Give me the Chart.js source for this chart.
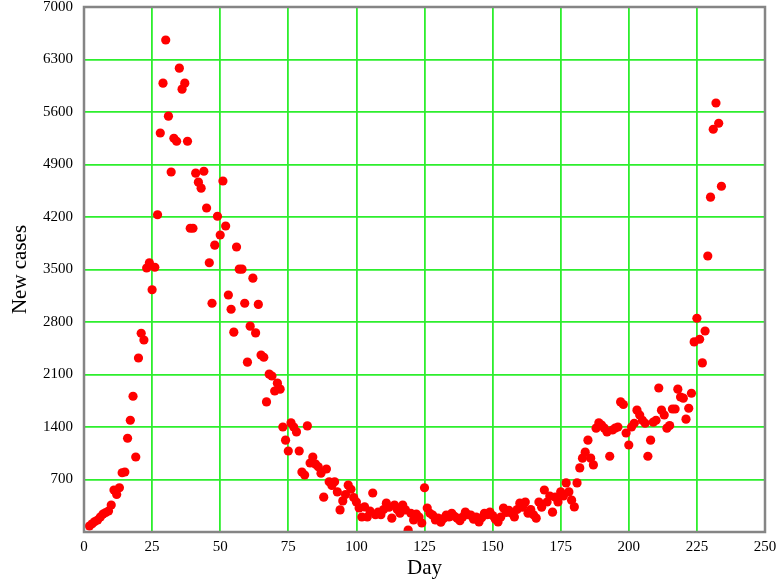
<!DOCTYPE html>
<html>
<head>
<meta charset="utf-8">
<script src="https://cdn.jsdelivr.net/npm/chart.js@4"></script>
<style>
  html, body { margin: 0; padding: 0; background: #fff; }
  #wrap { width: 776px; height: 583px; }
</style>
</head>
<body>
<div id="wrap"><canvas id="casesChart"></canvas></div>
<script>
// daily new cases
const days = [
  2, 3, 4, 5, 6, 7, 8, 9, 10, 11, 12, 13, 14, 15, 16, 17, 18, 19, 20, 21,
  22, 23, 24, 25, 26, 27, 28, 29, 30, 31, 32, 33, 34, 35, 36, 37, 38, 39, 40, 41,
  42, 43, 44, 45, 46, 47, 48, 49, 50, 51, 52, 53, 54, 55, 56, 57, 58, 59, 60, 61,
  62, 63, 64, 65, 66, 67, 68, 69, 70, 71, 72, 73, 74, 75, 76, 77, 78, 79, 80, 81,
  82, 83, 84, 85, 86, 87, 88, 89, 90, 91, 92, 93, 94, 95, 96, 97, 98, 99, 100, 101,
  102, 103, 104, 105, 106, 107, 108, 109, 110, 111, 112, 113, 114, 115, 116, 117, 118, 119, 120, 121,
  122, 123, 124, 125, 126, 127, 128, 129, 130, 131, 132, 133, 134, 135, 136, 137, 138, 139, 140, 141,
  142, 143, 144, 145, 146, 147, 148, 149, 150, 151, 152, 153, 154, 155, 156, 157, 158, 159, 160, 161,
  162, 163, 164, 165, 166, 167, 168, 169, 170, 171, 172, 173, 174, 175, 176, 177, 178, 179, 180, 181,
  182, 183, 184, 185, 186, 187, 188, 189, 190, 191, 192, 193, 194, 195, 196, 197, 198, 199, 200, 201,
  202, 203, 204, 205, 206, 207, 208, 209, 210, 211, 212, 213, 214, 215, 216, 217, 218, 219, 220, 221,
  222, 223, 224, 225, 226, 227, 228, 229, 230, 231, 232, 233, 234
];
const newCases = [
  80, 110, 140, 160, 200, 240, 260, 280, 360, 560, 500, 590, 790, 800, 1250, 1490, 1810, 1000, 2320, 2650,
  2560, 3520, 3590, 3230, 3530, 4230, 5320, 5985, 6560, 5545, 4800, 5250, 5210, 6185, 5905, 5985, 5210, 4050, 4050, 4785,
  4665, 4585, 4810, 4320, 3590, 3050, 3825, 4210, 3960, 4680, 4080, 3160, 2970, 2665, 3800, 3505, 3505, 3050, 2265, 2745,
  3385, 2655, 3035, 2360, 2330, 1735, 2105, 2080, 1880, 1985, 1905, 1400, 1225, 1080, 1455, 1400, 1335, 1080, 800, 760,
  1415, 920, 1000, 905, 870, 785, 465, 840, 670, 620, 670, 535, 295, 415, 500, 625, 570, 460, 400, 320,
  200, 335, 200, 280, 520, 230, 265, 230, 300, 385, 330, 185, 360, 300, 250, 360, 295, 25, 250, 160,
  240, 200, 120, 590, 320, 250, 225, 160, 185, 130, 180, 225, 200, 250, 210, 185, 150, 200, 265, 230,
  225, 170, 200, 135, 190, 250, 230, 265, 220, 170, 135, 200, 320, 260, 290, 250, 200, 300, 385, 330,
  400, 250, 300, 230, 185, 400, 330, 560, 400, 480, 265, 465, 400, 535, 480, 655, 535, 425, 335, 655,
  855, 985, 1065, 1225, 985, 895, 1385, 1455, 1425, 1385, 1335, 1010, 1360, 1385, 1400, 1735, 1700, 1320, 1160, 1400,
  1450, 1625, 1560, 1490, 1450, 1010, 1225, 1465, 1490, 1920, 1625, 1560, 1385, 1420, 1640, 1640, 1905, 1800, 1785, 1505,
  1650, 1850, 2535, 2850, 2570, 2255, 2680, 3680, 4465, 5370, 5720, 5450, 4610
];
const xTicks = [0, 25, 50, 75, 100, 125, 150, 175, 200, 225, 250];
const yTicks = [0, 700, 1400, 2100, 2800, 3500, 4200, 4900, 5600, 6300, 7000];

const points = days.map((d, i) => ({ x: d, y: newCases[i] }));

// grey frame round the plot area
const framePlugin = {
  id: 'frame',
  afterDraw(chart) {
    const a = chart.chartArea;
    const c = chart.ctx;
    c.save();
    c.strokeStyle = '#858585';
    c.lineWidth = 2.5;
    c.strokeRect(a.left, a.top, a.right - a.left, a.bottom - a.top);
    c.restore();
  }
};

const serif = "'Liberation Serif', 'Times New Roman', serif";
const gridGreen = 'rgb(45, 238, 45)';

new Chart(document.getElementById('casesChart'), {
  type: 'scatter',
  data: {
    datasets: [{
      label: 'New cases',
      data: points,
      backgroundColor: 'rgb(255, 0, 0)',
      borderColor: 'rgb(255, 0, 0)',
      borderWidth: 0,
      pointRadius: 4.6,
      pointHoverRadius: 4.6
    }]
  },
  options: {
    responsive: true,
    maintainAspectRatio: false,
    animation: false,
    layout: { padding: { top: 7, right: 11, left: 0, bottom: 0 } },
    plugins: {
      legend: { display: false },
      tooltip: { enabled: false }
    },
    scales: {
      x: {
        type: 'linear',
        min: 0,
        max: 250,
        afterBuildTicks: (s) => { s.ticks = xTicks.map(v => ({ value: v })); },
        afterFit: (s) => { s.height = 51; s.paddingLeft = 0; s.paddingRight = 0; },
        grid: { color: gridGreen, lineWidth: 1.8, drawTicks: false },
        border: { display: false },
        ticks: { color: '#000', padding: 6, maxRotation: 0, font: { family: serif, size: 15 } },
        title: { display: true, text: 'Day', color: '#000', padding: { top: 0, bottom: 2 }, font: { family: serif, size: 21 } }
      },
      y: {
        min: 0,
        max: 7000,
        afterBuildTicks: (s) => { s.ticks = yTicks.map(v => ({ value: v })); },
        afterFit: (s) => { s.width = 84; s.paddingTop = 0; s.paddingBottom = 0; },
        grid: { color: gridGreen, lineWidth: 1.8, drawTicks: false },
        border: { display: false },
        ticks: {
          color: '#000',
          padding: 11,
          font: { family: serif, size: 15 },
          callback: (v) => v === 0 ? '' : String(v)
        },
        title: { display: true, text: 'New cases', color: '#000', padding: 8, font: { family: serif, size: 21 } }
      }
    }
  },
  plugins: [framePlugin]
});
</script>
</body>
</html>
